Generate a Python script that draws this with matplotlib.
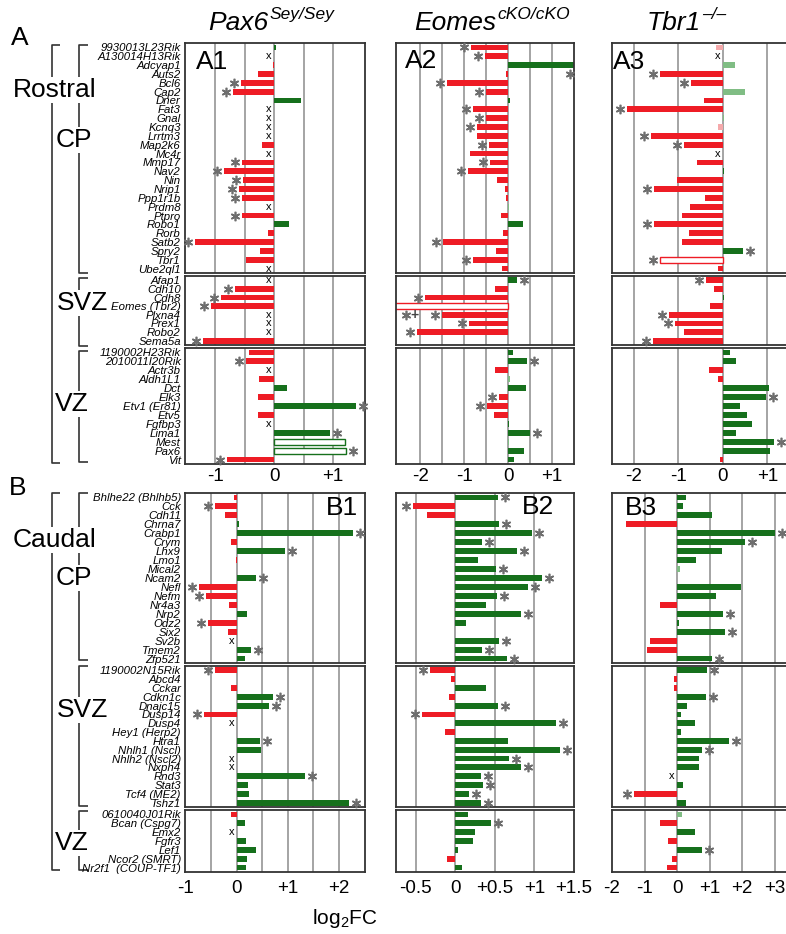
import matplotlib
matplotlib.use("Agg")
import matplotlib.pyplot as plt
from matplotlib.transforms import offset_copy

W, H = 786, 934

plt.rcParams["font.family"] = ["Liberation Sans", "DejaVu Sans"]
plt.rcParams["mathtext.fontset"] = "custom"
plt.rcParams["mathtext.it"] = "Liberation Sans:italic"
plt.rcParams["mathtext.rm"] = "Liberation Sans"

# ---- gene lists -------------------------------------------------------
ROSTRAL_CP = ["9930013L23Rik", "A130014H13Rik", "Adcyap1", "Auts2", "Bcl6", "Cap2",
              "Dner", "Fat3", "Gnal", "Kcnq3", "Lrrtm3", "Map2k6", "Mc4r", "Mmp17",
              "Nav2", "Nin", "Nrip1", "Ppp1r1b", "Prdm8", "Ptpro", "Robo1", "Rorb",
              "Satb2", "Spry2", "Tbr1", "Ube2ql1"]
ROSTRAL_SVZ = ["Afap1", "Cdh10", "Cdh8", "Eomes (Tbr2)", "Plxna4", "Prex1", "Robo2", "Sema5a"]
ROSTRAL_VZ = ["1190002H23Rik", "2010011I20Rik", "Actr3b", "Aldh1L1", "Dct", "Elk3",
              "Etv1 (Er81)", "Etv5", "Fgfbp3", "Lima1", "Mest", "Pax6", "Vit"]
CAUDAL_CP = ["Bhlhe22 (Bhlhb5)", "Cck", "Cdh11", "Chrna7", "Crabp1", "Crym", "Lhx9",
             "Lmo1", "Mical2", "Ncam2", "Nefl", "Nefm", "Nr4a3", "Nrp2", "Odz2", "Six2",
             "Sv2b", "Tmem2", "Zfp521"]
CAUDAL_SVZ = ["1190002N15Rik", "Abcd4", "Cckar", "Cdkn1c", "Dnajc15", "Dusp14", "Dusp4",
              "Hey1 (Herp2)", "Htra1", "Nhlh1 (Nscl)", "Nhlh2 (Nscl2)", "Nxph4", "Rnd3",
              "Stat3", "Tcf4 (ME2)", "Tshz1"]
CAUDAL_VZ = ["0610040J01Rik", "Bcan (Cspg7)", "Emx2", "Fgfr3", "Lef1", "Ncor2 (SMRT)",
             "Nr2f1  (COUP-TF1)"]

# ---- log2FC values + marks ('*' significant, 'x' not detected)
A1_CP = [0.03, 0, -0.02, -0.28, -0.56, -0.69, 0.45, 0, 0, 0, 0, -0.21, 0, -0.55, -0.85,
         -0.52, -0.59, -0.55, 0, -0.55, 0.25, -0.11, -1.34, -0.24, -0.47, 0]
A1_CP_M = ".x..**.xxxx.x*****x*..*..x"
A1_SVZ = [0, -0.67, -0.90, -1.07, 0, 0, 0, -1.21]
A1_SVZ_M = "x***xxx*"
A1_VZ = [-0.42, -0.47, 0, -0.25, 0.22, -0.27, 1.38, -0.28, 0, 0.95, 1.2, 1.22, -0.79]
A1_VZ_M = ".*x...*.x*.**"

A2_CP = [-0.84, -0.52, 1.6, -0.04, -1.40, -0.51, 0.04, -0.80, -0.50, -0.70, -0.70, -0.43,
         -0.86, -0.42, -0.92, -0.25, -0.07, -0.04, 0.02, -0.17, 0.33, -0.12, -1.48, -0.27,
         -0.79, -0.13]
A2_CP_M = "**..**.***.*.**.......*.*."
A2_SVZ = [0.2, -0.30, -1.88, -3.0, -1.5, -0.89, -2.08, 0]
A2_SVZ_M = "*.*.***."
A2_VZ = [0.11, 0.42, -0.30, 0.04, 0.41, -0.20, -0.48, -0.33, 0.03, 0.51, 0.02, 0.36, 0.13]
A2_VZ_M = ".*...**..*..."

A3_CP = [-0.15, 0, 0.27, -1.41, -0.71, 0.50, -0.43, -2.16, 0.03, -0.10, -1.62, -0.88, 0,
         -0.59, 0.03, -1.03, -1.54, -0.40, -0.75, -0.91, -1.54, -0.76, -0.91, 0.46, -1.41,
         -0.12]
A3_CP_M = ".x.**..*..**x...*...*..**."
A3_SVZ = [-0.37, -0.20, 0.02, -0.30, -1.21, -1.07, -0.87, -1.57]
A3_SVZ_M = "*...**.*"
A3_VZ = [0.15, 0.29, -0.32, -0.10, 1.03, 0.97, 0.39, 0.55, 0.65, 0.30, 1.14, 1.05, -0.07]
A3_VZ_M = ".....*....*.."

B1_CP = [-0.05, -0.43, -0.23, 0.05, 2.28, -0.12, 0.95, -0.02, 0, 0.37, -0.73, -0.59,
         -0.15, 0.21, -0.57, -0.16, 0, 0.29, 0.17]
B1_CP_M = ".*..*.*..***..*.x*."
B1_SVZ = [-0.43, 0, -0.11, 0.71, 0.63, -0.63, 0, 0, 0.45, 0.47, 0, 0, 1.33, 0.23, 0.25, 2.19]
B1_SVZ_M = "*..***x.*.xx*..*"
B1_VZ = [-0.12, 0.16, 0, 0.18, 0.37, 0.21, 0.19]
B1_VZ_M = "..x...."

B2_CP = [0.54, -0.54, -0.36, 0.55, 0.97, 0.34, 0.78, 0.29, 0.52, 1.10, 0.92, 0.53, 0.39,
         0.83, 0.14, 0, 0.55, 0.34, 0.65]
B2_CP_M = "**.****.****.*..***"
B2_SVZ = [-0.32, -0.05, 0.39, -0.08, 0.54, -0.42, 1.27, -0.13, 0.67, 1.32, 0.68, 0.83,
          0.32, 0.35, 0.17, 0.32]
B2_SVZ_M = "*...***..*******"
B2_VZ = [0.16, 0.45, 0.25, 0.22, 0.04, -0.11, 0.08]
B2_VZ_M = ".*....."

B3_CP = [0.29, 0.18, 1.06, -1.58, 3.0, 2.08, 1.38, 0.59, 0.08, 0, 1.98, 1.21, -0.53, 1.42,
         0.06, 1.47, -0.82, -0.91, 1.06]
B3_CP_M = "....**.......*.*..*"
B3_SVZ = [0.93, -0.10, -0.10, 0.90, 0.31, 0.11, 0.56, 0.11, 1.61, 0.78, 0.66, 0.66, 0,
          0.18, -1.32, 0.29]
B3_SVZ_M = "*..*....**..x.*."
B3_VZ = [0.15, -0.53, 0.56, -0.28, 0.78, -0.17, -0.30]
B3_VZ_M = "....*.."

# pale (non-significant) and open bars
FAINT_BARS = [("A2", "Prdm8"), ("A2", "Aldh1L1"), ("A2", "Mest"), ("A3", "9930013L23Rik"),
              ("A3", "Adcyap1"), ("A3", "Cap2"), ("A3", "Gnal"), ("A3", "Kcnq3"),
              ("B3", "Mical2"), ("B3", "0610040J01Rik")]
OPEN_BARS = [("A1", "Mest"), ("A1", "Pax6"), ("A2", "Eomes (Tbr2)"), ("A3", "Tbr1")]
# marks for bars that run off the axis
EXTRA_MARKS = [("A2", "Auts2", 1.40, "*"), ("A2", "Plxna4", -2.33, "*+")]

# column titles: (italic name, superscript)
TITLES = [("Pax6", "Sey/Sey"), ("Eomes", "cKO/cKO"), ("Tbr1", "\u2013/\u2013")]

RED, GREEN = "#ee1c25", "#16701c"
PINK, LGREEN = "#f5a9ab", "#80bd84"
GRIDC, STARC = "#8c8c8c", "#6e6e6e"

COLS = {"1": (185, 365), "2": (396, 574), "3": (612, 800)}
ROWS = {"A": {"CP": (43, 273), "SVZ": (276, 345), "VZ": (348, 464)},
        "B": {"CP": (493, 663), "SVZ": (666, 807), "VZ": (810, 872)}}
XSPEC = {
    "A1": ((-1.51, 1.54), [-1, -0.5, 0, 0.5, 1], [-1, 0, 1]),
    "A2": ((-2.55, 1.5), [-2, -1.5, -1, -0.5, 0, 0.5, 1], [-2, -1, 0, 1]),
    "A3": ((-2.49, 1.73), [-2, -1, 0, 1], [-2, -1, 0, 1]),
    "B1": ((-1.01, 2.51), [-0.5, 0, 0.5, 1, 1.5, 2], [-1, 0, 1, 2]),
    "B2": ((-0.75, 1.5), [-0.5, 0, 0.5, 1], [-0.5, 0, 0.5, 1, 1.5]),
    "B3": ((-2.0, 3.78), [-1, 0, 1, 2, 3], [-2, -1, 0, 1, 2, 3]),
}
GENES = {"A": {"CP": ROSTRAL_CP, "SVZ": ROSTRAL_SVZ, "VZ": ROSTRAL_VZ},
         "B": {"CP": CAUDAL_CP, "SVZ": CAUDAL_SVZ, "VZ": CAUDAL_VZ}}
DATA = {
    "A1": {"CP": (A1_CP, A1_CP_M), "SVZ": (A1_SVZ, A1_SVZ_M), "VZ": (A1_VZ, A1_VZ_M)},
    "A2": {"CP": (A2_CP, A2_CP_M), "SVZ": (A2_SVZ, A2_SVZ_M), "VZ": (A2_VZ, A2_VZ_M)},
    "A3": {"CP": (A3_CP, A3_CP_M), "SVZ": (A3_SVZ, A3_SVZ_M), "VZ": (A3_VZ, A3_VZ_M)},
    "B1": {"CP": (B1_CP, B1_CP_M), "SVZ": (B1_SVZ, B1_SVZ_M), "VZ": (B1_VZ, B1_VZ_M)},
    "B2": {"CP": (B2_CP, B2_CP_M), "SVZ": (B2_SVZ, B2_SVZ_M), "VZ": (B2_VZ, B2_VZ_M)},
    "B3": {"CP": (B3_CP, B3_CP_M), "SVZ": (B3_SVZ, B3_SVZ_M), "VZ": (B3_VZ, B3_VZ_M)},
}


def px_rect(l, t, r, b):
    return [l / W, 1 - b / H, (r - l) / W, (b - t) / H]


def fmt(t):
    if t == 0:
        return "0"
    return ("+%g" % t) if t > 0 else ("-%g" % abs(t))


fig = plt.figure(figsize=(W / 100, H / 100), dpi=100)

ov = fig.add_axes([0, 0, 1, 1], zorder=-1)
ov.set_xlim(0, W)
ov.set_ylim(H, 0)
ov.axis("off")

for panel in DATA:
    sec, col = panel[0], panel[1]
    xlim, grid, ticks = XSPEC[panel]
    for zone in ["CP", "SVZ", "VZ"]:
        genes = GENES[sec][zone]
        vals, marks = DATA[panel][zone]
        t, b = ROWS[sec][zone]
        l, r = COLS[col]
        ax = fig.add_axes(px_rect(l, t, r, b))
        n = len(genes)
        ax.set_xlim(*xlim)
        ax.set_ylim(n - 0.5, -0.5)
        for g in grid:
            ax.axvline(g, color=GRIDC, lw=1.1, zorder=0)
        star_r = offset_copy(ax.transData, fig=fig, x=7, y=0, units="dots")
        star_l = offset_copy(ax.transData, fig=fig, x=-7, y=0, units="dots")
        x_off = offset_copy(ax.transData, fig=fig, x=-5, y=0, units="dots")
        for i, (g, v, m) in enumerate(zip(genes, vals, marks)):
            if v != 0:
                if (panel, g) in OPEN_BARS:
                    fc, ec, lw = "white", (RED if v < 0 else GREEN), 1.0
                elif (panel, g) in FAINT_BARS:
                    fc = PINK if v < 0 else LGREEN
                    ec, lw = "none", 0
                else:
                    fc = RED if v < 0 else GREEN
                    ec, lw = "none", 0
                ax.barh(i, v, height=0.66, color=fc, edgecolor=ec, linewidth=lw, zorder=2)
            if m == "*":
                ax.plot(v, i, marker=(6, 2, 0), ms=6.8, mew=1.2, color=STARC, zorder=3,
                        transform=star_r if v > 0 else star_l, clip_on=False)
            elif m == "x":
                ax.text(0, i, "x", fontsize=8, ha="center", va="center", transform=x_off)
        for p, g, xv, txt in EXTRA_MARKS:
            if p == panel and g in genes:
                i = genes.index(g)
                ax.plot(xv, i, marker=(6, 2, 0), ms=6.8, mew=1.2, color=STARC, zorder=3)
                if "+" in txt:
                    ax.text(xv + 0.2, i, "+", fontsize=10, fontweight="bold", ha="center",
                            va="center", color="#444444")
        for s in ax.spines.values():
            s.set_linewidth(1.3)
            s.set_color("#333333")
        if col == "1":
            ax.set_yticks(range(n))
            ax.set_yticklabels(genes, fontstyle="italic", fontsize=8.2)
            ax.tick_params(axis="y", length=0, pad=3)
        else:
            ax.set_yticks([])
        if zone == "VZ":
            ax.set_xticks(ticks)
            ax.set_xticklabels([fmt(tk) for tk in ticks], fontsize=13.5)
            ax.tick_params(axis="x", length=0, pad=3 if sec == "A" else 6)
        else:
            ax.set_xticks([])

# panel ids
for txt, x, y in [("A1", 212, 62), ("A2", 421, 61), ("A3", 629, 62),
                  ("B1", 342, 508), ("B2", 538, 507), ("B3", 641, 508)]:
    fig.text(x / W, 1 - y / H, txt, fontsize=19, ha="center", va="center", zorder=5)

# column titles with superscripts
for (name, sup), xm in zip(TITLES, [268, 496, 701]):
    fig.text(xm / W, 1 - 30 / H, name, fontsize=19, fontstyle="italic", ha="right",
             va="baseline")
    fig.text((xm + 1) / W, 1 - 19 / H, sup, fontsize=12.5, fontstyle="italic", ha="left",
             va="baseline")
fig.text(345 / W, 1 - 918 / H, r"log$_2$FC", fontsize=15, ha="center", va="center")


# brackets
def bracket(x, y0, y1, tick):
    ov.plot([x + tick, x, x, x + tick], [y0, y0, y1, y1], color="#333333", lw=1.2,
            solid_capstyle="butt")


bracket(52, 45, 463, 8)
bracket(79, 45, 273, 9)
bracket(79, 278, 346, 9)
bracket(79, 351, 462, 9)
bracket(52, 493, 870, 8)
bracket(79, 493, 660, 9)
bracket(79, 666, 806, 9)
bracket(79, 811, 870, 9)

box = dict(fc="white", ec="none", pad=1)
for txt, x, y, fs in [("A", 20, 38, 19), ("B", 18, 488, 19),
                      ("Rostral", 55, 90, 19), ("CP", 74, 140, 19), ("SVZ", 83, 303, 19),
                      ("VZ", 72, 404, 19), ("Caudal", 55, 540, 19), ("CP", 74, 578, 19),
                      ("SVZ", 83, 710, 19), ("VZ", 72, 843, 19)]:
    ov.text(x, y, txt, fontsize=fs, ha="center", va="center", bbox=box, zorder=5)

fig.savefig("out.png", dpi=100)
